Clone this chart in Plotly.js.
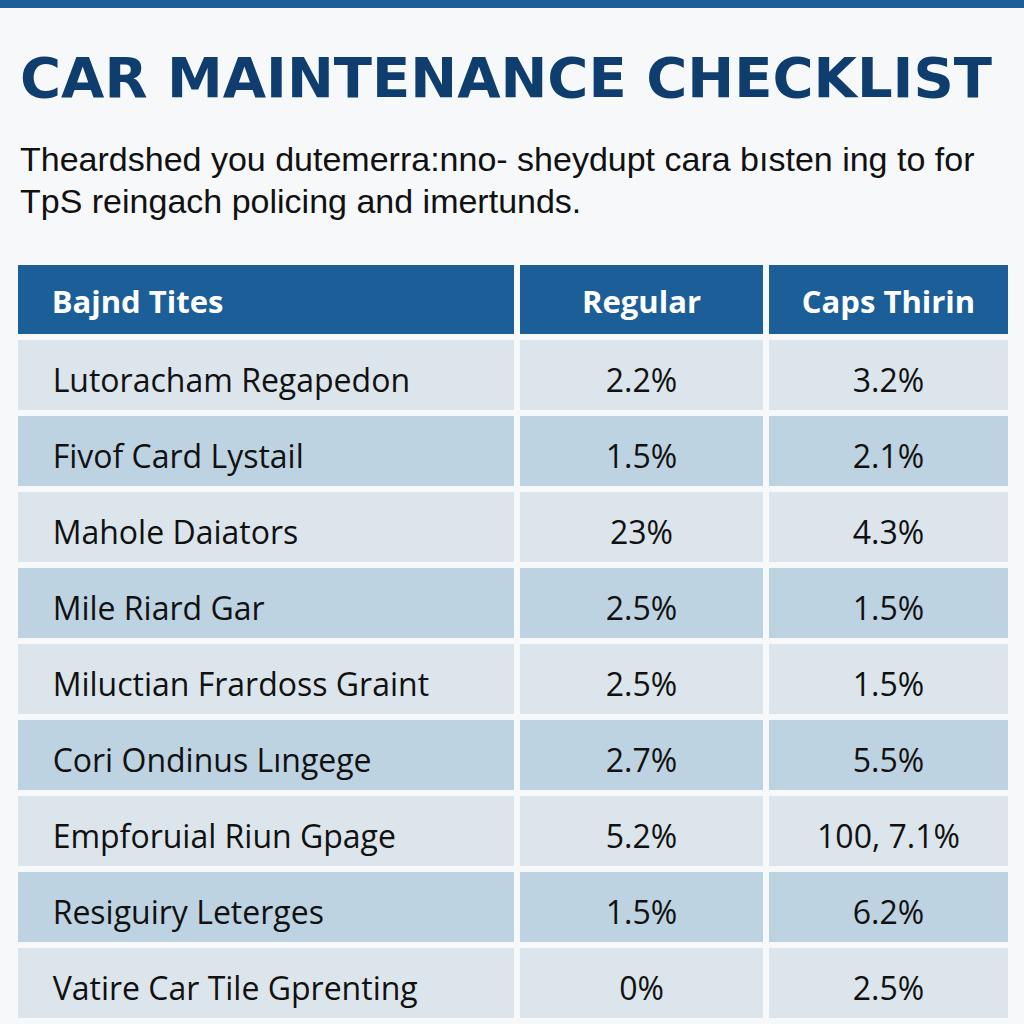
<!DOCTYPE html>
<html>
<head>
<meta charset="utf-8">
<script src="https://cdn.plot.ly/plotly-3.0.1.min.js"></script>
<style>
html,body{margin:0;padding:0;background:#f7f8fa;}
#chart{width:1024px;height:1024px;}
</style>
</head>
<body>
<div id="chart"></div>
<script>
const titleText = "CAR MAINTENANCE CHECKLIST";
const subtitleLines = [
  "Theardshed you dutemerra:nno- sheydupt cara bısten ing to for",
  "TpS reingach policing and imertunds."
];
const headers = ["Bajnd Tites", "Regular", "Caps Thirin"];
const items = [
  "Lutoracham Regapedon",
  "Fivof Card Lystail",
  "Mahole Daiators",
  "Mile Riard Gar",
  "Miluctian Frardoss Graint",
  "Cori Ondinus Lıngege",
  "Empforuial Riun Gpage",
  "Resiguiry Leterges",
  "Vatire Car Tile Gprenting"
];
const regular = ["2.2%", "1.5%", "23%", "2.5%", "2.5%", "2.7%", "5.2%", "1.5%", "0%"];
const capsThin = ["3.2%", "2.1%", "4.3%", "1.5%", "1.5%", "5.5%", "100, 7.1%", "6.2%", "2.5%"];

const W = 1024, H = 1024;
const bg = "#f7f8fa";
const light = "#dce5ec", dark = "#bed3e2";
const rowFill = items.map((_, i) => i % 2 === 0 ? light : dark);
const blank = items.map(() => "");
const pad = "\u2002 \u2009";
const clear = "rgba(0,0,0,0)";

// Table of cell backgrounds
const fillTable = {
  type: "table",
  domain: {x: [15/W, 1011/W], y: [0, 1 - 262/H]},
  columnwidth: [502, 249, 245],
  header: {
    values: ["", "", ""],
    height: 75,
    fill: {color: "#1b5e98"},
    line: {color: bg, width: 6}
  },
  cells: {
    values: [blank, blank, blank],
    height: 76,
    fill: {color: [rowFill, rowFill, rowFill]},
    line: {color: bg, width: 6}
  }
};

// Table of texts, laid over the backgrounds
const textTable = {
  type: "table",
  domain: {x: [15/W, 1], y: [0, 1 - 272/H]},
  columnwidth: [502, 249, 245, 13],
  header: {
    values: headers.map((h, i) => "<b>" + (i === 0 ? pad + h : h) + "</b>").concat([""]),
    align: ["left", "center", "center", "center"],
    height: 88,
    fill: {color: clear},
    line: {color: clear, width: 0},
    font: {family: "Open Sans, Noto Sans, sans-serif", size: 31, color: "#ffffff"}
  },
  cells: {
    values: [items.map(s => pad + s), regular, capsThin, blank],
    align: ["left", "center", "center", "center"],
    height: 76,
    fill: {color: clear},
    line: {color: clear, width: 0},
    font: {family: "Open Sans, Noto Sans, sans-serif", size: 32, color: "#111111"}
  }
};

const layout = {
  width: W, height: H,
  margin: {l: 0, r: 0, t: 0, b: 0},
  paper_bgcolor: bg,
  showlegend: false,
  shapes: [
    {type: "rect", xref: "paper", yref: "paper", x0: 0, x1: 1, y0: 1 - 8/H, y1: 1,
     fillcolor: "#1b5e98", line: {width: 0}}
  ],
  annotations: [
    {text: "<b>" + titleText + "</b>", xref: "paper", yref: "paper", x: 18/W, y: 1 - 77/H,
     xanchor: "left", yanchor: "middle", showarrow: false,
     font: {family: "DejaVu Sans, sans-serif", size: 56, color: "#0f3d6e"}},
    {text: subtitleLines[0], xref: "paper", yref: "paper", x: 18/W, y: 1 - 159/H,
     xanchor: "left", yanchor: "middle", showarrow: false,
     font: {family: "Liberation Sans, Arial, sans-serif", size: 34, color: "#111111"}},
    {text: subtitleLines[1], xref: "paper", yref: "paper", x: 18/W, y: 1 - 201/H,
     xanchor: "left", yanchor: "middle", showarrow: false,
     font: {family: "Liberation Sans, Arial, sans-serif", size: 34, color: "#111111"}}
  ]
};

Plotly.newPlot("chart", [fillTable, textTable], layout, {displayModeBar: false, staticPlot: true});
</script>
</body>
</html>
